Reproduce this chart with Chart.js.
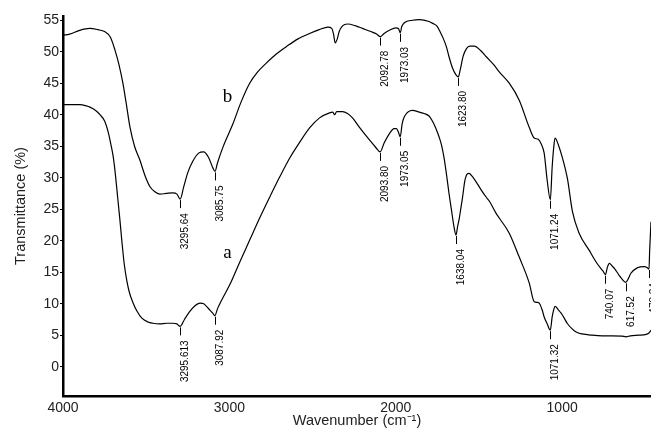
<!DOCTYPE html>
<html>
<head>
<meta charset="utf-8">
<title>FTIR</title>
<script src="https://cdn.jsdelivr.net/npm/chart.js@4/dist/chart.umd.min.js"></script>
<style>
  html, body { margin: 0; padding: 0; background: #fff; }
</style>
</head>
<body>
<canvas id="ftir" width="651" height="428"></canvas>
<script>
// ---- data ----
const waveA = [4000,3950,3898,3860,3838,3800,3778,3750,3728,3710,3698,3688,3670,3658,3646,3632,3616,3600,3580,3555,3526,3490,3460,3420,3376,3340,3316,3296,3270,3240,3210,3176,3154,3125,3100,3088,3070,3046,2998,2938,2878,2818,2758,2698,2638,2578,2518,2458,2398,2378,2368,2355,2320,2290,2260,2218,2158,2120,2094,2070,2038,2010,1996,1985,1973,1962,1948,1900,1858,1830,1800,1780,1760,1740,1726,1710,1696,1680,1666,1650,1638,1628,1618,1608,1598,1585,1570,1560,1540,1516,1490,1456,1438,1396,1378,1318,1258,1198,1168,1150,1138,1120,1108,1090,1071,1060,1048,1042,1025,1006,985,970,940,916,880,820,760,700,640,616,590,538,500,480,466];
const transA = [41.6,41.6,41.6,41.4,41.2,40.6,40.0,39.0,37.2,35.0,33.3,31.2,26.5,23.3,19.9,16.3,13.6,11.7,10.2,8.8,7.7,7.1,6.9,6.8,6.9,6.9,6.8,6.4,7.5,8.7,9.6,10.1,10.0,9.2,8.5,8.1,9.3,10.6,13.0,16.6,20.1,23.6,26.9,30.1,33.1,35.6,37.9,39.5,40.3,40.4,40.0,40.5,40.5,40.2,39.5,38.0,36.0,34.8,34.1,35.5,37.0,37.8,37.8,37.3,36.5,38.5,39.7,40.7,40.4,40.2,39.8,39.0,37.9,36.5,35.3,33.2,30.7,27.5,25.0,22.2,20.9,22.3,23.6,25.3,27.0,29.5,30.6,30.7,30.2,29.3,28.2,26.9,26.3,24.3,23.6,21.2,17.4,13.3,10.3,10.2,10.1,9.0,7.9,6.8,5.8,7.9,9.3,9.6,9.1,8.5,7.6,6.9,6.0,5.5,5.2,5.0,4.9,4.9,4.85,4.75,4.9,5.0,5.1,5.3,5.8];

const waveB = [4000,3960,3900,3840,3790,3750,3715,3688,3664,3640,3620,3598,3570,3538,3508,3478,3450,3418,3380,3340,3315,3296,3275,3250,3220,3185,3155,3125,3100,3086,3072,3038,2978,2930,2878,2830,2778,2720,2658,2590,2518,2460,2408,2385,2374,2364,2352,2340,2320,2290,2240,2200,2150,2115,2093,2070,2038,2000,1984,1973,1964,1948,1900,1858,1800,1778,1750,1738,1716,1696,1680,1660,1640,1624,1612,1595,1575,1555,1528,1490,1456,1410,1378,1318,1258,1198,1168,1144,1125,1108,1090,1071,1060,1048,1042,1020,1000,968,938,898,838,798,768,755,740,728,716,700,686,660,640,618,600,588,548,508,492,478,474,466];
const transB = [52.6,52.8,53.4,53.7,53.5,53.2,52.3,50.3,48.0,45.0,41.8,38.1,35.0,32.8,30.4,28.6,27.8,27.4,27.5,27.6,27.4,26.6,28.5,30.8,32.6,33.9,34.1,33.2,31.6,31.0,32.3,34.9,38.6,42.0,45.0,46.8,48.2,49.6,50.8,52.0,52.9,53.5,53.9,53.7,52.8,51.4,52.0,53.2,54.1,54.4,54.1,53.7,53.2,52.8,52.4,52.9,53.4,53.8,53.7,53.0,54.0,54.6,55.0,55.1,54.8,54.5,54.0,53.4,52.2,50.8,49.2,47.5,46.4,46.0,47.2,49.3,50.5,50.9,50.9,50.2,49.2,47.9,46.8,45.0,42.3,38.0,36.3,36.1,35.3,33.9,29.6,26.5,31.7,35.5,36.3,35.0,33.3,29.8,24.6,21.2,18.5,16.7,15.6,15.2,14.6,15.8,16.4,16.0,15.6,14.6,13.9,13.4,14.1,14.8,15.7,15.9,15.8,15.5,18.5,23.0];

const peaksA = ['3295.613','3087.92','2093.80','1973.05','1638.04','1071.32'];
const peaksB = ['3295.64','3085.75','2092.78','1973.03','1623.80','1071.24','740.07','617.52','478.24'];

const curveNames = ['a', 'b'];
const nameWave = [3012, 3012];
const nameTrans = [17.3, 42.0];

const xTicks = [4000, 3000, 2000, 1000];
const yTicks = [0, 5, 10, 15, 20, 25, 30, 35, 40, 45, 50, 55];

const SANS = "'Liberation Sans', Arial, Helvetica, sans-serif";

function toPoints(w, t) {
  return w.map((v, i) => ({ x: v, y: t[i] }));
}

// nearest sample of a series for a peak wavenumber
function peakValue(w, t, target) {
  let best = 0;
  for (let i = 1; i < w.length; i++) {
    if (Math.abs(w[i] - target) < Math.abs(w[best] - target)) best = i;
  }
  return t[best];
}

const peakLabels = {
  id: 'peakLabels',
  afterDatasetsDraw(chart) {
    const ctx = chart.ctx;
    const xs = chart.scales.x, ys = chart.scales.y;
    const sets = [[waveA, transA, peaksA], [waveB, transB, peaksB]];
    ctx.save();
    ctx.strokeStyle = '#000';
    ctx.fillStyle = '#000';
    ctx.lineWidth = 1;
    ctx.font = '10px ' + SANS;
    sets.forEach(([w, t, peaks]) => {
      peaks.forEach(txt => {
        const wn = parseFloat(txt);
        const px = xs.getPixelForValue(wn);
        const py = ys.getPixelForValue(peakValue(w, t, wn));
        ctx.beginPath();
        ctx.moveTo(Math.round(px) + 0.5, py + 1);
        ctx.lineTo(Math.round(px) + 0.5, py + 9);
        ctx.stroke();
        ctx.save();
        ctx.translate(px + 5, py + 14);
        ctx.rotate(-Math.PI / 2);
        ctx.textAlign = 'right';
        ctx.textBaseline = 'middle';
        ctx.fillText(txt, 0, 0);
        ctx.restore();
      });
    });
    // curve names
    ctx.font = "19px 'Liberation Serif', 'Times New Roman', serif";
    ctx.textAlign = 'center';
    ctx.textBaseline = 'alphabetic';
    curveNames.forEach((n, i) => {
      ctx.fillText(n, xs.getPixelForValue(nameWave[i]), ys.getPixelForValue(nameTrans[i]));
    });
    ctx.restore();
  }
};

new Chart(document.getElementById('ftir'), {
  type: 'line',
  data: {
    datasets: [
      { label: 'a', data: toPoints(waveA, transA) },
      { label: 'b', data: toPoints(waveB, transB) }
    ]
  },
  options: {
    responsive: false,
    animation: false,
    parsing: false,
    layout: { padding: { top: 16, right: 0, bottom: 0, left: 0 } },
    elements: {
      point: { radius: 0 },
      line: { borderColor: '#000', borderWidth: 1.2, cubicInterpolationMode: 'monotone', fill: false }
    },
    plugins: { legend: { display: false }, tooltip: { enabled: false } },
    scales: {
      x: {
        type: 'linear',
        reverse: true,
        min: 466,
        max: 4000,
        afterBuildTicks: s => { s.ticks = xTicks.map(v => ({ value: v })); },
        afterFit: s => { s.height = 32; s.paddingRight = 0; },
        grid: { display: false, drawTicks: false },
        border: { display: true, color: '#000', width: 2.5 },
        ticks: { color: '#222', padding: 4, font: { family: SANS, size: 14 }, callback: v => String(v) },
        title: {
          display: true,
          text: 'Wavenumber (cm\u207B\u00B9)',
          color: '#222',
          padding: 0,
          font: { family: SANS, size: 14.5, lineHeight: 1 }
        }
      },
      y: {
        min: -4.65,
        max: 55.67,
        afterBuildTicks: s => { s.ticks = yTicks.map(v => ({ value: v })); },
        afterFit: s => { s.width = 63; },
        grid: { display: true, drawOnChartArea: false, drawTicks: true, tickLength: 3, color: '#000' },
        border: { display: true, color: '#000', width: 2.5 },
        ticks: { color: '#222', padding: 1, font: { family: SANS, size: 14 } },
        title: {
          display: true,
          text: 'Transmittance (%)',
          color: '#222',
          padding: { top: 14, bottom: 0 },
          font: { family: SANS, size: 14.5, lineHeight: 1 }
        }
      }
    }
  },
  plugins: [peakLabels]
});
</script>
</body>
</html>
